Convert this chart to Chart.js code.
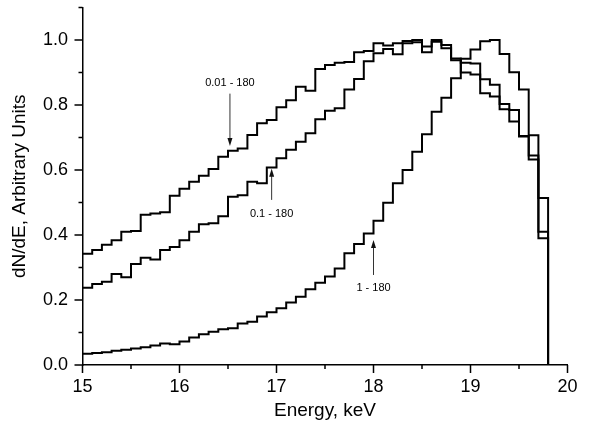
<!DOCTYPE html>
<html>
<head>
<meta charset="utf-8">
<script src="https://cdn.jsdelivr.net/npm/chart.js@4.4.1/dist/chart.umd.min.js"></script>
<style>
  html, body { margin: 0; padding: 0; background: #fff; }
  #wrap { width: 590px; height: 426px; }
</style>
</head>
<body>
<div id="wrap"><canvas id="spec" width="590" height="426"></canvas></div>
<script>
/* Spectres dN/dE — trois histogrammes en escalier (bins de 0.1 keV) */
'use strict';

const BIN_START = 15.0;
const BIN_WIDTH = 0.1;

// 0.01 - 180
const s001 = [0.342, 0.354, 0.370, 0.384, 0.410, 0.412, 0.462, 0.466, 0.470, 0.521,
              0.542, 0.564, 0.582, 0.603, 0.641, 0.659, 0.666, 0.708, 0.744, 0.754,
              0.793, 0.815, 0.856, 0.844, 0.911, 0.923, 0.930, 0.932, 0.962, 0.966,
              0.990, 0.983, 0.990, 0.997, 1.000, 0.980, 1.000, 0.985, 0.943, 0.900,
              0.894, 0.836, 0.826, 0.787, 0.749, 0.705, 0.632, 0.390];
// 0.1 - 180
const s01 = [0.238, 0.249, 0.256, 0.280, 0.270, 0.311, 0.330, 0.325, 0.354, 0.363,
             0.384, 0.410, 0.433, 0.436, 0.458, 0.518, 0.522, 0.564, 0.559, 0.608,
             0.636, 0.662, 0.687, 0.713, 0.756, 0.782, 0.790, 0.848, 0.880, 0.935,
             0.959, 0.972, 0.956, 0.990, 0.993, 0.962, 0.995, 0.975, 0.938, 0.930,
             0.928, 0.879, 0.862, 0.803, 0.785, 0.703, 0.645, 0.410];
// 1 - 180
const s1 = [0.035, 0.037, 0.039, 0.044, 0.047, 0.051, 0.055, 0.060, 0.066, 0.064,
            0.072, 0.085, 0.095, 0.102, 0.110, 0.113, 0.128, 0.133, 0.149, 0.162,
            0.175, 0.192, 0.210, 0.233, 0.253, 0.272, 0.297, 0.344, 0.372, 0.405,
            0.444, 0.499, 0.559, 0.600, 0.656, 0.710, 0.779, 0.822, 0.882, 0.942,
            0.971, 0.996, 1.000, 0.957, 0.901, 0.848, 0.707, 0.514];

const xTicks = [15, 16, 17, 18, 19, 20];
const xMinor = [15.5, 16.5, 17.5, 18.5, 19.5];
const yTicks = [0, 0.2, 0.4, 0.6, 0.8, 1.0];
const yMinor = [0.1, 0.3, 0.5, 0.7, 0.9, 1.1];

// étiquettes + flèches (coordonnées en unités de données)
const notes = [
  { text: '0.01 - 180', x: 16.52, ty: 0.868, tail: 0.835, tip: 0.674 },
  { text: '0.1 - 180',  x: 16.95, ty: 0.465, tail: 0.508, tip: 0.604 },
  { text: '1 - 180',    x: 18.00, ty: 0.237, tail: 0.277, tip: 0.385 },
];

const FONT = '"Liberation Sans", Arial, Helvetica, sans-serif';
Chart.defaults.font.family = FONT;
Chart.defaults.color = '#000';

function steps(vals) {
  const pts = vals.map((v, i) => ({ x: BIN_START + i * BIN_WIDTH, y: v }));
  pts.push({ x: BIN_START + vals.length * BIN_WIDTH, y: 0 });
  return pts;
}
function line(vals) {
  // 'before' : palier horizontal au niveau du bin, puis saut vertical au bord suivant
  return { data: steps(vals), stepped: 'before', borderColor: '#000', borderWidth: 2,
           pointRadius: 0, fill: false, tension: 0 };
}
function fixTicks(list) {
  return s => { s.ticks = list.map(v => ({ value: v })); };
}
function noPad(size, prop) {
  return s => { s[prop] = size; s.paddingLeft = s.paddingRight = s.paddingTop = s.paddingBottom = 0; };
}

/* graduations (majeures / mineures) + annotations fléchées */
const deco = {
  id: 'deco',
  afterDraw(chart) {
    const { ctx, scales: { x, y } } = chart;
    const y0 = y.getPixelForValue(0), x0 = x.getPixelForValue(BIN_START);
    ctx.save();
    ctx.strokeStyle = '#000'; ctx.lineWidth = 1.5;
    ctx.beginPath();
    xTicks.forEach(v => { const p = x.getPixelForValue(v); ctx.moveTo(p, y0); ctx.lineTo(p, y0 + 8); });
    xMinor.forEach(v => { const p = x.getPixelForValue(v); ctx.moveTo(p, y0); ctx.lineTo(p, y0 + 4); });
    yTicks.forEach(v => { const p = y.getPixelForValue(v); ctx.moveTo(x0, p); ctx.lineTo(x0 - 8, p); });
    yMinor.forEach(v => { const p = y.getPixelForValue(v); ctx.moveTo(x0, p); ctx.lineTo(x0 - 4, p); });
    ctx.stroke();

    ctx.font = '11px ' + FONT;
    ctx.textAlign = 'center'; ctx.textBaseline = 'middle';
    notes.forEach(n => {
      const px = x.getPixelForValue(n.x);
      const pt = y.getPixelForValue(n.tip), pl = y.getPixelForValue(n.tail);
      const dir = pt > pl ? 1 : -1;
      ctx.fillStyle = '#000';
      ctx.fillText(n.text, px, y.getPixelForValue(n.ty));
      ctx.strokeStyle = '#333'; ctx.lineWidth = 1;
      ctx.beginPath(); ctx.moveTo(px, pl); ctx.lineTo(px, pt - dir * 6); ctx.stroke();
      ctx.fillStyle = '#111';
      ctx.beginPath();
      ctx.moveTo(px, pt); ctx.lineTo(px - 2.5, pt - dir * 8); ctx.lineTo(px + 2.5, pt - dir * 8);
      ctx.closePath(); ctx.fill();
    });
    ctx.restore();
  },
};

new Chart(document.getElementById('spec'), {
  type: 'line',
  data: { datasets: [line(s001), line(s01), line(s1)] },
  options: {
    responsive: false, animation: false, devicePixelRatio: 1,
    layout: { padding: { top: 7.5, right: 22.5, bottom: 0, left: 0 } },
    plugins: { legend: { display: false }, tooltip: { enabled: false } },
    scales: {
      x: {
        type: 'linear', min: 15, max: 20,
        afterBuildTicks: fixTicks(xTicks), afterFit: noPad(61, 'height'),
        grid: { display: false },
        border: { display: true, color: '#000', width: 1.5 },
        ticks: { font: { size: 18 }, padding: 3.5, color: '#000', maxRotation: 0 },
        title: { display: true, text: 'Energy, keV', font: { size: 19 }, color: '#000',
                 padding: { top: 0, bottom: 4 } },
      },
      y: {
        type: 'linear', min: 0, max: 1.1,
        afterBuildTicks: fixTicks(yTicks), afterFit: noPad(82.5, 'width'),
        grid: { display: false },
        border: { display: true, color: '#000', width: 1.5 },
        ticks: { font: { size: 18 }, padding: 6.5, color: '#000', callback: v => v.toFixed(1) },
        title: { display: true, text: 'dN/dE, Arbitrary Units', font: { size: 19 }, color: '#000',
                 padding: { top: 8.5, bottom: 0 } },
      },
    },
  },
  plugins: [deco],
});
</script>
</body>
</html>
